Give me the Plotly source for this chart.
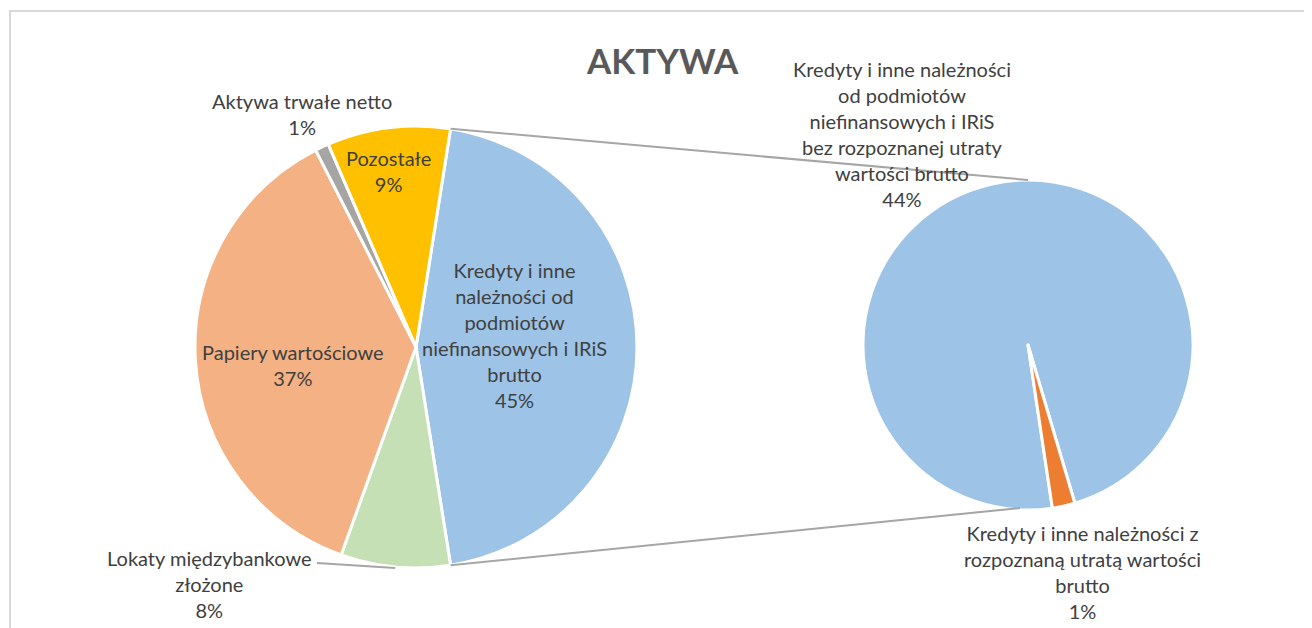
import math
import plotly.graph_objects as go

W, H = 1312, 628
OFF = 8  # page body margin in the browser

# ---- data ----
main_labels = ["Kredyty i inne należności od podmiotów niefinansowych i IRiS brutto",
               "Lokaty międzybankowe złożone",
               "Papiery wartościowe",
               "Aktywa trwałe netto",
               "Pozostałe"]
main_values = [45, 8, 37, 1, 9]
main_colors = ["#9DC3E6", "#C5E0B4", "#F4B183", "#A5A5A5", "#FFC000"]

sub_labels = ["Kredyty i inne należności od podmiotów niefinansowych i IRiS bez rozpoznanej utraty wartości brutto",
              "Kredyty i inne należności z rozpoznaną utratą wartości brutto"]
sub_values = [44, 1]
sub_colors = ["#9DC3E6", "#ED7D31"]

main_texts = ["Kredyty i inne<br>należności od<br>podmiotów<br>niefinansowych i IRiS<br>brutto<br>45%",
              "Lokaty międzybankowe<br>złożone<br>8%",
              "Papiery wartościowe<br>37%",
              "Aktywa trwałe netto<br>1%",
              "Pozostałe<br>9%"]
sub_texts = ["Kredyty i inne należności<br>od podmiotów<br>niefinansowych i IRiS<br>bez rozpoznanej utraty<br>wartości brutto<br>44%",
             "Kredyty i inne należności z<br>rozpoznaną utratą wartości<br>brutto<br>1%"]

# ---- layout geometry (screen pixels) ----
c1 = (416, 347); r1 = 221
c2 = (1028, 345); r2 = 165

def fx(px):
    return (px - OFF) / W

def fy(py):
    return 1 - (py - OFF) / H

def dom(c, r):
    return dict(x=[fx(c[0] - r), fx(c[0] + r)], y=[fy(c[1] + r), fy(c[1] - r)])

total = sum(main_values)
rot1 = 90 - main_values[0] / total * 180  # split slice centred at 3 o'clock
rot2 = 171.5

fig = go.Figure()
fig.add_trace(go.Pie(values=main_values, labels=main_labels, sort=False, direction="clockwise",
                     rotation=rot1, domain=dom(c1, r1), textinfo="none", showlegend=False,
                     marker=dict(colors=main_colors, line=dict(color="white", width=3))))
fig.add_trace(go.Pie(values=sub_values, labels=sub_labels, sort=False, direction="clockwise",
                     rotation=rot2, domain=dom(c2, r2), textinfo="none", showlegend=False,
                     marker=dict(colors=sub_colors, line=dict(color="white", width=3))))

def rim(c, r, ang):
    a = math.radians(ang)
    return c[0] + r * math.sin(a), c[1] - r * math.cos(a)

# connector lines from split slice edges to secondary pie top/bottom
p_top = rim(c1, r1, rot1)
p_bot = rim(c1, r1, rot1 + main_values[0] / total * 360)
q_top = (c2[0], c2[1] - r2)
q_bot = (c2[0] - 8, c2[1] + r2 - 2)
shapes = [
    dict(type="line", xref="paper", yref="paper", x0=fx(p_top[0]), y0=fy(p_top[1]),
         x1=fx(q_top[0]), y1=fy(q_top[1]), line=dict(color="#A6A6A6", width=2)),
    dict(type="line", xref="paper", yref="paper", x0=fx(p_bot[0]), y0=fy(p_bot[1]),
         x1=fx(q_bot[0]), y1=fy(q_bot[1]), line=dict(color="#A6A6A6", width=2)),
]
# leader line for Lokaty
lok_mid = rot1 + (main_values[0] + main_values[1] / 2) / total * 360
lp = rim(c1, r1, lok_mid)
shapes.append(dict(type="line", xref="paper", yref="paper", x0=fx(317), y0=fy(563),
                   x1=fx(lp[0]), y1=fy(lp[1] + 1), line=dict(color="#A6A6A6", width=2)))
# chart border
shapes.append(dict(type="rect", xref="paper", yref="paper", x0=fx(10), y0=-0.05, x1=1.05,
                   y1=fy(11), line=dict(color="#D9D9D9", width=2), layer="below"))

FONT = "Lato, Liberation Sans, sans-serif"
label_pos_main = [(514, 335), (209, 584), (293, 365), (302, 114), (388, 171)]
label_pos_sub = [(902, 134), (1082, 572)]

annotations = []
for t, (x, y) in zip(main_texts + sub_texts, label_pos_main + label_pos_sub):
    annotations.append(dict(text=t, x=fx(x), y=fy(y), xref="paper", yref="paper",
                            xanchor="center", yanchor="middle", showarrow=False, align="center",
                            font=dict(family=FONT, size=20, color="#404040")))
annotations.append(dict(text="<b>AKTYWA</b>", x=fx(662), y=fy(60), xref="paper", yref="paper",
                        xanchor="center", yanchor="middle", showarrow=False,
                        font=dict(family=FONT, size=35, color="#595959")))

fig.update_layout(width=W, height=H, margin=dict(l=0, r=0, t=0, b=0),
                  paper_bgcolor="white", plot_bgcolor="white",
                  shapes=shapes, annotations=annotations)

fig.write_html("out.html")
